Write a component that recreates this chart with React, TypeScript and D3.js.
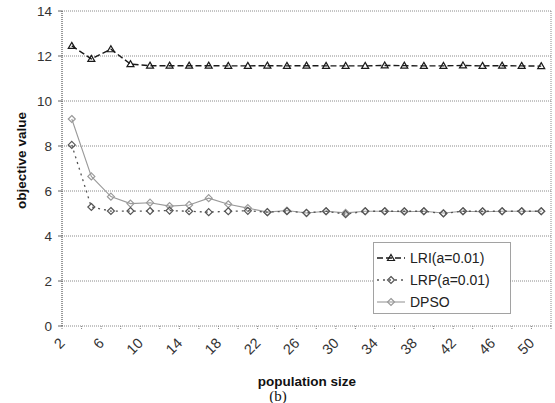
import React, { useEffect, useRef } from 'react';
import * as d3 from 'd3';

// population sizes 2..50 step 2
const populationSizes = [2, 4, 6, 8, 10, 12, 14, 16, 18, 20, 22, 24, 26, 28, 30, 32, 34, 36, 38, 40, 42, 44, 46, 48, 50];

const lriValues = [12.45, 11.87, 12.3, 11.64, 11.57, 11.57, 11.57, 11.57, 11.56, 11.56, 11.57, 11.56, 11.57, 11.56, 11.56, 11.56, 11.58, 11.57, 11.56, 11.56, 11.58, 11.56, 11.57, 11.56, 11.55];
const lrpValues = [8.05, 5.29, 5.11, 5.11, 5.11, 5.13, 5.1, 5.06, 5.1, 5.12, 5.06, 5.1, 5.03, 5.1, 4.97, 5.1, 5.1, 5.1, 5.1, 5.0, 5.1, 5.1, 5.1, 5.1, 5.1];
const dpsoValues = [9.2, 6.65, 5.75, 5.44, 5.48, 5.33, 5.38, 5.68, 5.41, 5.24, 5.06, 5.13, 5.02, 5.1, 5.03, 5.1, 5.1, 5.08, 5.1, 5.02, 5.1, 5.08, 5.1, 5.1, 5.1];

const yTicks = [0, 2, 4, 6, 8, 10, 12, 14];

const SERIES = [
  { name: 'LRI(a=0.01)', values: lriValues, color: '#1a1a1a', dash: '6,3', marker: 'triangle', width: 1.4 },
  { name: 'LRP(a=0.01)', values: lrpValues, color: '#555', dash: '2,4', marker: 'diamond', width: 1.3 },
  { name: 'DPSO', values: dpsoValues, color: '#9a9a9a', dash: null, marker: 'diamond', width: 1.1 },
];

const W = 555;
const H = 403;
const PLOT = { left: 62, right: 551, top: 11, bottom: 326 };
const FONT = '"Liberation Sans", Arial, sans-serif';

export default function App() {
  const svgRef = useRef<SVGSVGElement | null>(null);

  useEffect(() => {
    if (!svgRef.current) return;
    const svg = d3.select(svgRef.current);
    svg.selectAll('*').remove();

    const x = d3.scaleBand<number>()
      .domain(populationSizes)
      .range([PLOT.left, PLOT.right]);
    const cx = (d: number) => (x(d) as number) + x.bandwidth() / 2;

    const y = d3.scaleLinear().domain([0, 14]).range([PLOT.bottom, PLOT.top]);

    // grid lines
    svg.append('g')
      .selectAll('line')
      .data(yTicks)
      .enter()
      .append('line')
      .attr('x1', PLOT.left)
      .attr('x2', PLOT.right)
      .attr('y1', d => y(d))
      .attr('y2', d => y(d))
      .attr('stroke', '#8a8a8a')
      .attr('stroke-width', 1)
      .attr('stroke-dasharray', '1,1');

    // right border
    svg.append('line')
      .attr('x1', PLOT.right).attr('x2', PLOT.right)
      .attr('y1', PLOT.top).attr('y2', PLOT.bottom)
      .attr('stroke', '#8a8a8a')
      .attr('stroke-dasharray', '1,1');

    // left axis
    svg.append('line')
      .attr('x1', PLOT.left).attr('x2', PLOT.left)
      .attr('y1', PLOT.top).attr('y2', PLOT.bottom + 1)
      .attr('stroke', '#333')
      .attr('stroke-dasharray', '1,1');

    // y tick marks + labels
    const yg = svg.append('g');
    yg.selectAll('line')
      .data(yTicks)
      .enter()
      .append('line')
      .attr('x1', PLOT.left - 4)
      .attr('x2', PLOT.left)
      .attr('y1', d => y(d))
      .attr('y2', d => y(d))
      .attr('stroke', '#666');
    yg.selectAll('text')
      .data(yTicks)
      .enter()
      .append('text')
      .attr('x', 52)
      .attr('y', d => y(d) + 5)
      .attr('text-anchor', 'end')
      .attr('font-family', FONT)
      .attr('font-size', 13.5)
      .attr('fill', '#333')
      .text(d => d);

    // x tick marks at band edges
    const edges = populationSizes.map(d => x(d) as number).concat([PLOT.right]);
    svg.append('g')
      .selectAll('line')
      .data(edges)
      .enter()
      .append('line')
      .attr('x1', d => d)
      .attr('x2', d => d)
      .attr('y1', PLOT.bottom)
      .attr('y2', PLOT.bottom + 4)
      .attr('stroke', '#888')
      .attr('stroke-dasharray', '1,1');

    // x labels (every other category), rotated
    svg.append('g')
      .selectAll('text')
      .data(populationSizes.filter((_, i) => i % 2 === 0))
      .enter()
      .append('text')
      .attr('transform', d => `translate(${cx(d) - 6},${PLOT.bottom + 18}) rotate(-45)`)
      .attr('text-anchor', 'end')
      .attr('font-family', FONT)
      .attr('font-size', 14.5)
      .attr('fill', '#333')
      .text(d => d);

    // series
    const line = d3.line<number>()
      .x((_, i) => cx(populationSizes[i]))
      .y(v => y(v));

    const drawMarker = (g: d3.Selection<SVGGElement, unknown, null, undefined>, type: string, px: number, py: number, color: string) => {
      if (type === 'triangle') {
        g.append('path')
          .attr('d', `M${px},${py - 3.5}L${px + 3.5},${py + 2.5}L${px - 3.5},${py + 2.5}Z`)
          .attr('fill', 'none')
          .attr('stroke', color)
          .attr('stroke-width', 1.2);
      } else {
        g.append('path')
          .attr('d', `M${px},${py - 3.5}L${px + 3.5},${py}L${px},${py + 3.5}L${px - 3.5},${py}Z`)
          .attr('fill', 'none')
          .attr('stroke', color)
          .attr('stroke-width', 1.2);
      }
    };

    // draw DPSO first, then LRP, then LRI on top
    [...SERIES].reverse().forEach(s => {
      const g = svg.append('g');
      g.append('path')
        .datum(s.values)
        .attr('d', line)
        .attr('fill', 'none')
        .attr('stroke', s.color)
        .attr('stroke-width', s.width)
        .attr('stroke-dasharray', s.dash);
      s.values.forEach((v, i) => drawMarker(g, s.marker, cx(populationSizes[i]), y(v), s.color));
    });

    // legend
    const lg = svg.append('g');
    lg.append('rect')
      .attr('x', 373.5)
      .attr('y', 242.5)
      .attr('width', 137)
      .attr('height', 71)
      .attr('fill', '#fff')
      .attr('stroke', '#444')
      .attr('stroke-dasharray', '1,1');
    SERIES.forEach((s, i) => {
      const ly = 258 + i * 22;
      lg.append('line')
        .attr('x1', 377)
        .attr('x2', 405)
        .attr('y1', ly)
        .attr('y2', ly)
        .attr('stroke', s.color)
        .attr('stroke-width', s.width)
        .attr('stroke-dasharray', s.dash);
      drawMarker(lg as any, s.marker, 391, ly, s.color);
      lg.append('text')
        .attr('x', 410)
        .attr('y', ly + 5)
        .attr('font-family', FONT)
        .attr('font-size', 14)
        .attr('fill', '#222')
        .text(s.name);
    });

    // axis titles
    svg.append('text')
      .attr('transform', `translate(26,${(PLOT.top + PLOT.bottom) / 2 - 8}) rotate(-90)`)
      .attr('text-anchor', 'middle')
      .attr('font-family', FONT)
      .attr('font-size', 13.5)
      .attr('font-weight', 'bold')
      .attr('fill', '#111')
      .text('objective value');

    svg.append('text')
      .attr('x', 307)
      .attr('y', 386)
      .attr('text-anchor', 'middle')
      .attr('font-family', FONT)
      .attr('font-size', 13.5)
      .attr('font-weight', 'bold')
      .attr('fill', '#111')
      .text('population size');

    svg.append('text')
      .attr('x', 278)
      .attr('y', 401)
      .attr('text-anchor', 'middle')
      .attr('font-family', '"Liberation Serif", "Times New Roman", serif')
      .attr('font-size', 15)
      .attr('fill', '#111')
      .text('(b)');
  }, []);

  return (
    <div style={{ position: 'absolute', left: 0, top: 0 }}>
      <svg ref={svgRef} width={W} height={H} style={{ display: 'block', background: '#fff' }} />
    </div>
  );
}
